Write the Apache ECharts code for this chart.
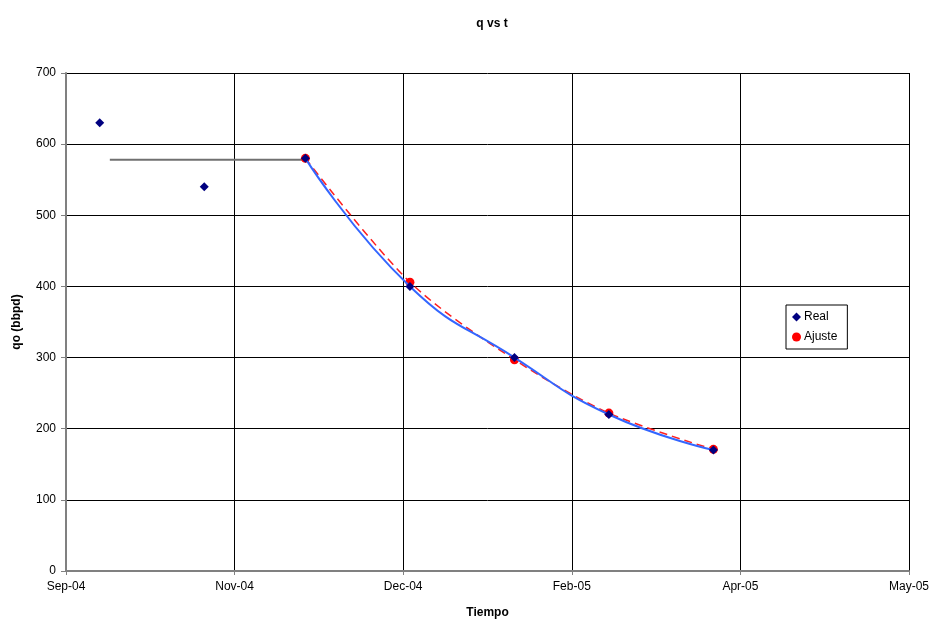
<!DOCTYPE html>
<html>
<head>
<meta charset="utf-8">
<script src="https://cdn.jsdelivr.net/npm/echarts@6/dist/echarts.min.js"></script>
<style>
  html, body { margin: 0; padding: 0; background: #ffffff; }
  #chart { width: 932px; height: 624px; }
</style>
</head>
<body>
<div id="chart"></div>
<script>
// Measured production rate (Real) and the decline fit (Ajuste)
var realDates = ['2004-09-30', '2004-10-31', '2004-11-30', '2004-12-31', '2005-01-31', '2005-02-28', '2005-03-31'];
var realRates = [630, 540, 580, 400, 300, 220, 170];

var fitDates = ['2004-11-30', '2004-12-31', '2005-01-31', '2005-02-28', '2005-03-31'];
var fitRates = [580, 406, 297, 222, 171];

// Smoothed trend through the measured points from the start of the decline
var trendDates = ['2004-11-30', '2004-12-31', '2005-01-31', '2005-02-28', '2005-03-31'];
var trendRates = [580, 400, 300, 220, 170];

// Reference rate level before the decline
var refDates = ['2004-10-03', '2004-11-30'];
var refRates = [578, 578];

var monthNames = ['Jan', 'Feb', 'Mar', 'Apr', 'May', 'Jun', 'Jul', 'Aug', 'Sep', 'Oct', 'Nov', 'Dec'];
var EPOCH = Date.UTC(1899, 11, 30);
var DAY = 86400000;

function toSerial(s) {
  var p = s.split('-');
  return Math.round((Date.UTC(+p[0], +p[1] - 1, +p[2]) - EPOCH) / DAY);
}
function serialLabel(v) {
  var d = new Date(EPOCH + v * DAY);
  var yy = String(d.getUTCFullYear() % 100);
  if (yy.length < 2) yy = '0' + yy;
  return monthNames[d.getUTCMonth()] + '-' + yy;
}
function pairs(dates, vals) {
  return dates.map(function (d, i) { return [toSerial(d), vals[i]]; });
}

var FONT = '"Liberation Sans", Arial, sans-serif';
var chart = echarts.init(document.getElementById('chart'));

chart.setOption({
  animation: false,
  backgroundColor: '#ffffff',
  title: {
    text: 'q vs t',
    left: 487, top: 13, textAlign: 'center',
    textStyle: { fontFamily: FONT, fontSize: 12, fontWeight: 'bold', color: '#000' }
  },
  legend: {
    orient: 'vertical',
    left: 786, top: 305,
    padding: [6, 10, 6, 6],
    itemGap: 8,
    itemWidth: 9, itemHeight: 9,
    borderColor: '#000', borderWidth: 1,
    data: [
      { name: 'Real', icon: 'diamond' },
      { name: 'Ajuste', icon: 'circle' }
    ],
    textStyle: { fontFamily: FONT, fontSize: 12, color: '#000', padding: [0, 0, 0, -2] }
  },
  grid: { left: 66, right: 23, top: 73, bottom: 52 },
  xAxis: {
    type: 'value',
    min: 38250, max: 38500, interval: 50,
    name: 'Tiempo',
    nameLocation: 'middle',
    nameGap: 36,
    nameTextStyle: { fontFamily: FONT, fontSize: 12, fontWeight: 'bold', color: '#000' },
    axisLine: { show: true, lineStyle: { color: '#808080', width: 2 } },
    axisTick: { show: true, length: 4, lineStyle: { color: '#808080' } },
    axisLabel: {
      fontFamily: FONT, fontSize: 12, color: '#000', margin: 10,
      formatter: serialLabel
    },
    splitLine: { show: true, lineStyle: { color: '#000', width: 1 } }
  },
  yAxis: {
    type: 'value',
    min: 0, max: 700, interval: 100,
    name: 'qo (bbpd)',
    nameLocation: 'middle',
    nameGap: 43,
    nameTextStyle: { fontFamily: FONT, fontSize: 12, fontWeight: 'bold', color: '#000' },
    axisLine: { show: true, lineStyle: { color: '#808080', width: 2 } },
    axisTick: { show: true, length: 5, lineStyle: { color: '#808080' } },
    axisLabel: { fontFamily: FONT, fontSize: 12, color: '#000', margin: 10 },
    splitLine: { show: true, lineStyle: { color: '#000', width: 1 } }
  },
  series: [
    {
      name: 'ref',
      type: 'line',
      data: pairs(refDates, refRates),
      symbol: 'none',
      lineStyle: { color: '#707070', width: 2 },
      silent: true,
      z: 2
    },
    {
      name: 'Ajuste',
      type: 'line',
      data: pairs(fitDates, fitRates),
      smooth: 0.3,
      symbol: 'circle',
      symbolSize: 9,
      itemStyle: { color: '#ff0000', opacity: 1 },
      lineStyle: { color: '#ff2020', width: 1.5, type: [8, 5] },
      z: 3
    },
    {
      name: 'trend',
      type: 'line',
      data: pairs(trendDates, trendRates),
      smooth: 0.5,
      symbol: 'none',
      lineStyle: { color: '#3366ff', width: 2 },
      silent: true,
      z: 4
    },
    {
      name: 'Real',
      type: 'scatter',
      data: pairs(realDates, realRates),
      symbol: 'diamond',
      symbolSize: 9,
      itemStyle: { color: '#000080', opacity: 1 },
      z: 5
    }
  ]
});
</script>
</body>
</html>
